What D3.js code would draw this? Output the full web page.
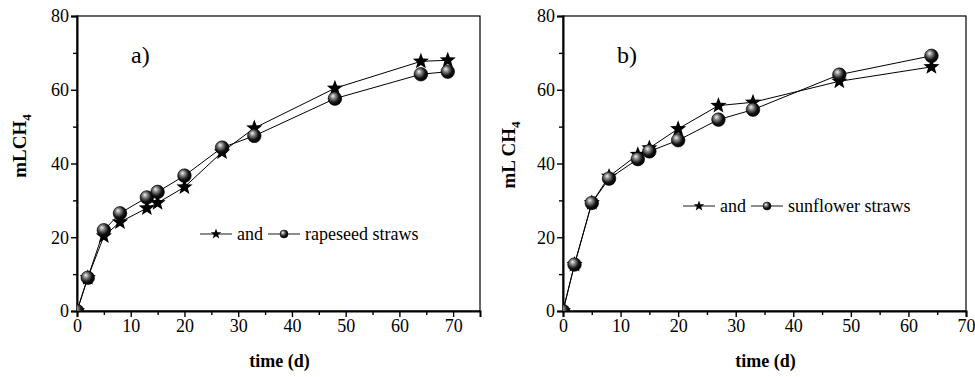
<!DOCTYPE html>
<html>
<head>
<meta charset="utf-8">
<script src="https://cdn.jsdelivr.net/npm/d3@7"></script>
<style>
  body { margin: 0; background: #fff; }
</style>
</head>
<body>
<svg width="975" height="377"></svg>
<script>
// sampling days
const daysA = [0, 2, 5, 8, 13, 15, 20, 27, 33, 48, 64, 69];
const daysB = [0, 2, 5, 8, 13, 15, 20, 27, 33, 48, 64];

// a) rapeseed straws
const starA   = [0, 9.0, 20.3, 24.1, 27.9, 29.3, 33.6, 43.1, 49.6, 60.4, 67.7, 68.0];
const sphereA = [0, 9.0, 21.9, 26.5, 30.8, 32.3, 36.7, 44.3, 47.5, 57.6, 64.2, 64.9];

// b) sunflower straws
const starB   = [0, 12.6, 29.3, 36.5, 42.4, 44.2, 49.4, 55.7, 56.6, 62.3, 66.2];
const sphereB = [0, 12.6, 29.3, 35.9, 41.2, 43.3, 46.3, 51.9, 54.6, 64.1, 69.2];

const yTicks = [0, 20, 40, 60, 80];

const SERIF = "'Liberation Serif', 'Times New Roman', serif";
const svg = d3.select('svg');

// shaded ball look for the round markers
const grad = svg.append('defs').append('radialGradient')
    .attr('id', 'ball').attr('cx', '0.4').attr('cy', '0.4').attr('r', '0.6')
    .attr('fx', '0.35').attr('fy', '0.3');
grad.append('stop').attr('offset', '0').attr('stop-color', '#f4f4f4');
grad.append('stop').attr('offset', '0.3').attr('stop-color', '#8a8a8a');
grad.append('stop').attr('offset', '0.7').attr('stop-color', '#151515');
grad.append('stop').attr('offset', '1').attr('stop-color', '#000');

function starPath(r) {
    const pts = [];
    for (let i = 0; i < 10; i++) {
        const rad = i % 2 === 0 ? r : r * 0.42;
        const a = -Math.PI / 2 + i * Math.PI / 5;
        pts.push([rad * Math.cos(a), rad * Math.sin(a)]);
    }
    return 'M' + pts.map(p => p.join(',')).join('L') + 'Z';
}

function drawPanel(o) {
    const g = svg.append('g');
    const x = d3.scaleLinear().domain([0, o.xMax]).range([o.left, o.right]);
    const y = d3.scaleLinear().domain([0, 80]).range([o.bottom, o.top]);

    const clipId = 'clip' + o.id;
    svg.select('defs').append('clipPath').attr('id', clipId)
        .append('rect').attr('x', o.left).attr('y', o.top)
        .attr('width', o.right - o.left).attr('height', o.bottom - o.top);

    // frame
    g.append('rect').attr('x', o.left).attr('y', o.top)
        .attr('width', o.right - o.left).attr('height', o.bottom - o.top)
        .attr('fill', 'none').attr('stroke', '#000').attr('stroke-width', 1.2);

    // x axis
    g.append('g').attr('transform', `translate(0,${o.bottom})`)
        .call(d3.axisBottom(x).tickValues(d3.range(0, o.xMax + 1, 10))
            .tickSize(6).tickPadding(2).tickFormat(d3.format('d')));
    g.append('g').attr('transform', `translate(0,${o.bottom})`)
        .call(d3.axisBottom(x).tickValues(d3.range(5, o.xMax, 10)).tickSize(4).tickFormat(''))
        .select('.domain').remove();

    // y axis
    g.append('g').attr('transform', `translate(${o.left},0)`)
        .call(d3.axisLeft(y).tickValues(yTicks).tickSize(6).tickPadding(2));
    g.append('g').attr('transform', `translate(${o.left},0)`)
        .call(d3.axisLeft(y).tickValues([10, 30, 50, 70]).tickSize(4).tickFormat(''))
        .select('.domain').remove();

    g.selectAll('.domain').attr('stroke-width', 2);
    g.selectAll('.tick line').attr('stroke-width', 1.4);
    g.selectAll('.tick text').style('font-family', SERIF).style('font-size', '18px').attr('fill', '#000');

    // axis titles
    g.append('text').attr('x', (o.left + o.right) / 2 + 1).attr('y', o.bottom + 56)
        .attr('text-anchor', 'middle').style('font-family', SERIF).style('font-size', '18px')
        .style('font-weight', 'bold').text('time (d)');
    const yl = g.append('text')
        .attr('transform', `translate(${o.yLabelX},${o.yLabelY}) rotate(-90)`)
        .attr('text-anchor', 'middle').style('font-family', SERIF).style('font-size', '19px')
        .style('font-weight', 'bold');
    yl.append('tspan').text(o.yLabel);
    yl.append('tspan').style('font-size', '13px').attr('dy', 5).text('4');

    // panel letter
    g.append('text').attr('x', o.left + 54).attr('y', o.top + 47)
        .style('font-family', SERIF).style('font-size', '24px').text(o.letter);

    const plot = g.append('g').attr('clip-path', `url(#${clipId})`);
    const line = d3.line().x(d => x(d[0])).y(d => y(d[1]));
    const starPts = o.days.map((d, i) => [d, o.star[i]]);
    const spherePts = o.days.map((d, i) => [d, o.sphere[i]]);

    plot.append('path').datum(starPts).attr('d', line)
        .attr('fill', 'none').attr('stroke', '#000').attr('stroke-width', 1);
    plot.append('path').datum(spherePts).attr('d', line)
        .attr('fill', 'none').attr('stroke', '#000').attr('stroke-width', 1);

    plot.selectAll('.star').data(starPts).enter().append('path')
        .attr('d', starPath(8.5))
        .attr('transform', d => `translate(${x(d[0])},${y(d[1])})`)
        .attr('fill', '#000');
    plot.selectAll('.ball').data(spherePts).enter().append('circle')
        .attr('cx', d => x(d[0])).attr('cy', d => y(d[1])).attr('r', 6.8)
        .attr('fill', 'url(#ball)').attr('stroke', '#000').attr('stroke-width', 0.6);

    // legend
    const lg = g.append('g').attr('transform', `translate(${o.legX},${o.legY})`);
    const seg = (x1, x2) => lg.append('line').attr('x1', x1).attr('x2', x2)
        .attr('y1', 0).attr('y2', 0).attr('stroke', '#000').attr('stroke-width', 0.9);
    seg(0, 32);
    lg.append('path').attr('d', starPath(5.5)).attr('transform', 'translate(16,0)').attr('fill', '#000');
    lg.append('text').attr('x', 37).attr('y', 6).style('font-family', SERIF).style('font-size', '18px').text('and');
    seg(68, 100);
    lg.append('circle').attr('cx', 84).attr('cy', 0).attr('r', 4)
        .attr('fill', 'url(#ball)').attr('stroke', '#000').attr('stroke-width', 0.5);
    lg.append('text').attr('x', 105).attr('y', 6).style('font-family', SERIF).style('font-size', '18px').text(o.legText);
}

drawPanel({
    id: 'a', left: 77, right: 480, top: 16, bottom: 311, xMax: 75,
    days: daysA, star: starA, sphere: sphereA,
    letter: 'a)', yLabel: 'mLCH', yLabelX: 26, yLabelY: 146,
    legX: 200, legY: 234, legText: 'rapeseed straws'
});

drawPanel({
    id: 'b', left: 563, right: 966, top: 16, bottom: 311, xMax: 70,
    days: daysB, star: starB, sphere: sphereB,
    letter: 'b)', yLabel: 'mL CH', yLabelX: 515, yLabelY: 155,
    legX: 683, legY: 206, legText: 'sunflower straws'
});
</script>
</body>
</html>
